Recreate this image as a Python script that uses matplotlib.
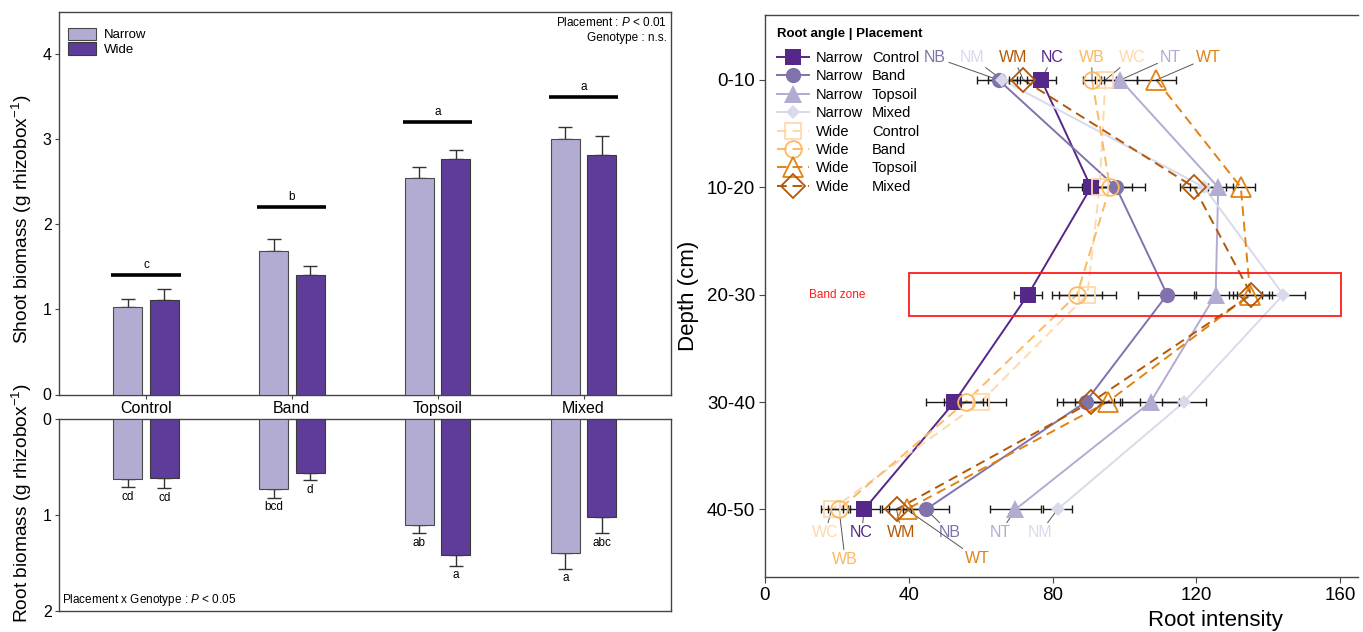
import matplotlib
matplotlib.use("Agg")
import matplotlib.pyplot as plt
from matplotlib.lines import Line2D
from matplotlib.patches import Patch, Rectangle
import numpy as np

plt.rcParams['font.family'] = ['Liberation Sans', 'DejaVu Sans']
plt.rcParams['mathtext.fontset'] = 'custom'
plt.rcParams['mathtext.rm'] = 'Liberation Sans'
plt.rcParams['mathtext.it'] = 'Liberation Sans:italic'
plt.rcParams['mathtext.bf'] = 'Liberation Sans:bold'
NARROWF = ['Liberation Sans Narrow', 'Liberation Sans']

# ---------------- Left panel data ----------------
placements = ['Control', 'Band', 'Topsoil', 'Mixed']
angle_names = ['Narrow', 'Wide']
shoot_narrow = [1.03, 1.69, 2.55, 3.00]
shoot_narrow_se = [0.09, 0.14, 0.12, 0.14]
shoot_wide = [1.11, 1.41, 2.77, 2.81]
shoot_wide_se = [0.13, 0.10, 0.11, 0.23]
shoot_letters = ['c', 'b', 'a', 'a']
shoot_letter_level = [1.40, 2.20, 3.20, 3.50]
root_narrow = [0.62, 0.73, 1.10, 1.40]
root_narrow_se = [0.09, 0.09, 0.09, 0.16]
root_wide = [0.61, 0.56, 1.42, 1.02]
root_wide_se = [0.11, 0.08, 0.11, 0.17]
root_letters_narrow = ['cd', 'bcd', 'ab', 'a']
root_letters_wide = ['cd', 'd', 'a', 'abc']

# ---------------- Right panel data ----------------
depth_labels = ['0-10', '10-20', '20-30', '30-40', '40-50']
narrow_control = [76.9, 90.7, 73.2, 52.7, 27.6]
narrow_control_se = [4.0, 6.5, 4.0, 8.0, 4.5]
narrow_band = [65.0, 97.7, 111.9, 89.2, 44.8]
narrow_band_se = [6.0, 8.0, 8.0, 8.0, 6.5]
narrow_topsoil = [98.9, 126.1, 125.4, 107.3, 69.7]
narrow_topsoil_se = [4.5, 4.0, 6.0, 8.0, 7.0]
narrow_mixed = [66.0, 122.2, 144.2, 116.6, 81.4]
narrow_mixed_se = [4.0, 4.0, 6.0, 6.0, 4.0]
wide_control = [94.7, 93.1, 89.7, 60.0, 18.6]
wide_control_se = [3.0, 5.0, 8.0, 7.0, 3.0]
wide_band = [91.0, 96.0, 86.8, 55.8, 20.6]
wide_band_se = [2.5, 6.0, 7.0, 6.0, 3.0]
wide_topsoil = [108.9, 132.4, 135.0, 95.3, 39.4]
wide_topsoil_se = [5.5, 4.0, 6.0, 9.0, 5.0]
wide_mixed = [71.9, 119.4, 135.3, 90.8, 36.6]
wide_mixed_se = [4.0, 4.0, 5.0, 8.0, 4.0]
series_angle = ['Narrow'] * 4 + ['Wide'] * 4
series_place = ['Control', 'Band', 'Topsoil', 'Mixed'] * 2
series_codes = ['NC', 'NB', 'NT', 'NM', 'WC', 'WB', 'WT', 'WM']
series_vals = [narrow_control, narrow_band, narrow_topsoil, narrow_mixed,
               wide_control, wide_band, wide_topsoil, wide_mixed]
series_se = [narrow_control_se, narrow_band_se, narrow_topsoil_se, narrow_mixed_se,
             wide_control_se, wide_band_se, wide_topsoil_se, wide_mixed_se]

# styles
col_narrow_bar = '#b2abd2'
col_wide_bar = '#5e3c99'
series_colors = ['#542788', '#8073ac', '#b2abd2', '#d8daeb',
                 '#fed9ad', '#fdb863', '#e08214', '#b35806']
series_markers = ['s', 'o', '^', 'D', 's', 'o', '^', 'D']
series_ms = [11, 11, 13, 7.5, 12, 12, 15, 12]

W, H = 1363, 632
fig = plt.figure(figsize=(W / 100, H / 100), dpi=100)

def fx(px):
    return px / W

def fy(py):
    return 1 - py / H

# ---------- Left: shoot ----------
ax1 = fig.add_axes([fx(58.5), fy(394.5), fx(671) - fx(58.5), fy(11.7) - fy(394.5)])
ax2 = fig.add_axes([fx(58.5), fy(611), fx(671) - fx(58.5), fy(419) - fy(611)])
xpos = np.arange(1, len(placements) + 1)
off, bw = 0.125, 0.198
errkw = dict(fmt='none', ecolor='#333333', elinewidth=1.0, capsize=5.2, capthick=1.0, zorder=2)

for ax, nar, nse, wid, wse in [(ax1, shoot_narrow, shoot_narrow_se, shoot_wide, shoot_wide_se),
                               (ax2, root_narrow, root_narrow_se, root_wide, root_wide_se)]:
    ax.bar(xpos - off, nar, bw, color=col_narrow_bar, edgecolor='#4a4a4a', linewidth=0.8, zorder=3)
    ax.bar(xpos + off, wid, bw, color=col_wide_bar, edgecolor='#3a3a3a', linewidth=0.8, zorder=3)
    ax.errorbar(xpos - off, nar, yerr=[np.zeros(4), nse], **errkw)
    ax.errorbar(xpos + off, wid, yerr=[np.zeros(4), wse], **errkw)
    ax.set_xlim(0.4, 4.6)
    for s in ax.spines.values():
        s.set_color('#444444')
        s.set_linewidth(1.0)
    ax.tick_params(axis='y', length=3, width=0.8, color='#444444', labelsize=11.5, pad=2)

ax1.set_ylim(0, 4.5)
ax1.set_yticks([0, 1, 2, 3, 4])
ax1.set_xticks(xpos)
ax1.set_xticklabels(placements, fontsize=11.5)
ax1.tick_params(axis='x', length=3, width=0.8, color='#444444', pad=2)
for i, (lvl, let) in enumerate(zip(shoot_letter_level, shoot_letters)):
    ax1.plot([xpos[i] - 0.237, xpos[i] + 0.237], [lvl, lvl], color='black', lw=2.6, solid_capstyle='butt')
    ax1.text(xpos[i], lvl + 0.05, let, ha='center', va='bottom', fontsize=8.5, family=NARROWF)
ax1.text(0.993, 0.972, r'Placement : $\it{P}$ < 0.01', transform=ax1.transAxes,
         ha='right', va='center', fontsize=8.5, family=NARROWF)
ax1.text(0.993, 0.932, 'Genotype : n.s.', transform=ax1.transAxes,
         ha='right', va='center', fontsize=8.5, family=NARROWF)
leg1 = ax1.legend(handles=[Patch(facecolor=col_narrow_bar, edgecolor='#4a4a4a', lw=0.8),
                           Patch(facecolor=col_wide_bar, edgecolor='#3a3a3a', lw=0.8)],
                  labels=angle_names, loc='upper left', bbox_to_anchor=(0.016, 0.958),
                  frameon=False, borderpad=0, borderaxespad=0, handlelength=2.1,
                  handleheight=1.05, handletextpad=0.6, labelspacing=0.08,
                  prop={'family': NARROWF, 'size': 9.5})

ax2.set_ylim(2, 0)
ax2.set_yticks([0, 1, 2])
ax2.set_xticks([])
for i in range(4):
    ax2.text(xpos[i] - off, root_narrow[i] + root_narrow_se[i] + 0.1, root_letters_narrow[i],
             ha='center', va='center', fontsize=8.5, family=NARROWF)
    ax2.text(xpos[i] + off, root_wide[i] + root_wide_se[i] + 0.1, root_letters_wide[i],
             ha='center', va='center', fontsize=8.5, family=NARROWF)
ax2.text(0.006, 0.055, r'Placement x Genotype : $\it{P}$ < 0.05', transform=ax2.transAxes,
         ha='left', va='center', fontsize=8.5, family=NARROWF)

fig.text(fx(22), fy(219), r'Shoot biomass (g rhizobox$^{-1}$)', rotation=90,
         ha='center', va='center', fontsize=13.8)
fig.text(fx(22), fy(503), r'Root biomass (g rhizobox$^{-1}$)', rotation=90,
         ha='center', va='center', fontsize=13.8)

# ---------- Right panel ----------
ax3 = fig.add_axes([fx(765), fy(577), fx(1358) - fx(765), fy(15) - fy(577)])
depth_pos = np.arange(1, len(depth_labels) + 1)
ax3.set_xlim(0, 165)
ax3.set_ylim(5.63, 0.395)
for i in range(8):
    ls = '-' if series_angle[i] == 'Narrow' else (0, (5, 3))
    ax3.plot(series_vals[i], depth_pos, color=series_colors[i], lw=1.4, ls=ls, zorder=2)
for i in range(8):
    ax3.errorbar(series_vals[i], depth_pos, xerr=series_se[i], fmt='none', ecolor='#1a1a1a',
                 elinewidth=1.0, capsize=3.2, capthick=1.0, zorder=3)
handles = []
for i in range(8):
    filled = series_angle[i] == 'Narrow'
    kw = dict(color=series_colors[i], marker=series_markers[i], ms=series_ms[i],
              mfc=series_colors[i] if filled else 'none', mec=series_colors[i],
              mew=0 if filled else 1.3)
    ax3.plot(series_vals[i], depth_pos, ls='none', zorder=5, **kw)
    ls = '-' if series_angle[i] == 'Narrow' else (0, (5, 3))
    handles.append(Line2D([], [], ls=ls, lw=1.4, **kw))

# point labels with leader lines
top_label_x = {'NB': 47.3, 'NM': 57.6, 'WM': 69.1, 'NC': 79.9, 'WB': 90.9, 'WC': 102.2, 'NT': 112.9, 'WT': 123.4}
bot_label_xy = {'WC': (16.7, 5.22), 'NC': (26.9, 5.22), 'WM': (38.0, 5.22), 'NB': (51.5, 5.22),
                'NT': (65.4, 5.22), 'NM': (76.5, 5.22), 'WB': (22.3, 5.47), 'WT': (59.1, 5.46)}
akw = dict(arrowstyle='-', color='#555555', lw=0.7, shrinkA=0, shrinkB=0)
for i, code in enumerate(series_codes):
    ax3.annotate(code, xy=(series_vals[i][0], depth_pos[0]), xytext=(top_label_x[code], 0.79),
                 ha='center', va='center', fontsize=11.5, color=series_colors[i],
                 arrowprops=akw, zorder=1)
    bx, by = bot_label_xy[code]
    ax3.annotate(code, xy=(series_vals[i][-1], depth_pos[-1]), xytext=(bx, by),
                 ha='center', va='center', fontsize=11.5, color=series_colors[i],
                 arrowprops=akw, zorder=1)

ax3.add_patch(Rectangle((40.1, 2.8), 120.2, 0.4, fill=False, edgecolor='#ff1a1a', lw=1.3, zorder=6))
ax3.text(20, 3.0, 'Band zone', color='#ff1a1a', fontsize=8.5, ha='center', va='center')

ax3.set_yticks(depth_pos)
ax3.set_yticklabels(depth_labels)
ax3.set_xticks([0, 40, 80, 120, 160])
ax3.tick_params(axis='both', length=4, width=0.8, color='#444444', labelsize=13.5, pad=3)
ax3.spines['right'].set_visible(False)
for s in ['left', 'bottom', 'top']:
    ax3.spines[s].set_color('#444444')
    ax3.spines[s].set_linewidth(1.0)
ax3.set_ylabel('Depth (cm)', fontsize=16)
ax3.yaxis.set_label_coords(-0.112, 0.5)
ax3.set_xlabel('Root intensity', fontsize=16)
ax3.xaxis.set_label_coords((1215 - 765) / (1358 - 765), -0.058)

leg = ax3.legend(handles=handles, labels=series_angle, loc='upper left',
                 bbox_to_anchor=(12 / 593, 1 - 13 / 562), frameon=False, borderpad=0,
                 borderaxespad=0, handlelength=2.2, handletextpad=0.45, labelspacing=0.3,
                 title='Root angle | Placement', alignment='left', fontsize=10.5,
                 title_fontproperties={'weight': 'bold', 'size': 9.5})
leg._legend_box.sep = 8
leg.set_zorder(10)

fig.canvas.draw()
renderer = fig.canvas.get_renderer()
for t, place in zip(leg.get_texts(), series_place):
    bb = t.get_window_extent(renderer)
    yc = (bb.y0 + bb.y1) / 2
    fig.text(fx(872), yc / H, place, ha='left', va='center', fontsize=10.5, zorder=11)

fig.savefig('out.png', dpi=100)
